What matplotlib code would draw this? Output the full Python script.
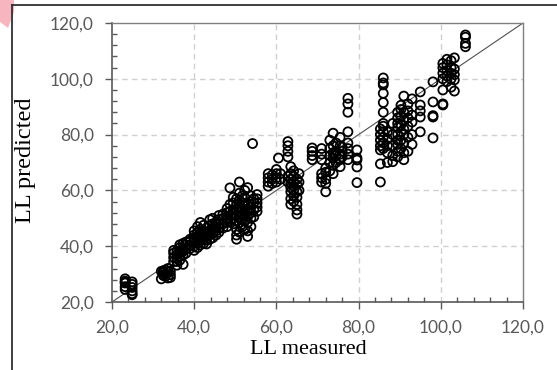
import matplotlib.pyplot as plt
from matplotlib.lines import Line2D
from matplotlib.patches import Polygon
from matplotlib.ticker import MultipleLocator, FuncFormatter

# measured LL (x) -> predicted LL values (y) for each measured column
columns = [
    (23.2, [28.3, 27.5, 26.8, 25.5, 24.5, 27.0]),
    (24.9, [27.2, 26.3, 25.2, 24.0, 23.0, 22.6]),
    (32.0, [28.3, 31.0]),
    (32.5, [30.5, 31.2, 29.5]),
    (33.0, [30.0, 31.5, 29.2]),
    (33.6, [30.8, 32.0, 28.6]),
    (34.2, [28.8, 31.0, 29.8]),
    (35.0, [34.5, 36.0, 37.5, 38.5]),
    (35.8, [33.2, 34.5, 35.5, 37.0, 38.3]),
    (36.5, [35.0, 36.5, 38.0, 39.5, 40.5]),
    (37.3, [33.5, 36.8, 38.2, 39.2, 41.0]),
    (38.0, [37.5, 39.0, 40.5, 41.5]),
    (39.0, [39.2, 40.3, 41.8, 42.5]),
    (40.0, [38.5, 40.0, 41.5, 43.0, 44.0, 45.5]),
    (40.8, [39.5, 41.0, 42.3, 43.5, 45.0, 47.0]),
    (41.5, [40.5, 42.0, 43.5, 44.5, 46.0, 48.5]),
    (42.3, [41.0, 42.5, 44.0, 45.2, 47.5]),
    (43.0, [40.8, 42.2, 43.7, 45.0, 46.5]),
    (43.8, [42.5, 44.0, 45.5, 47.5, 49.5]),
    (44.5, [43.0, 44.5, 46.0, 48.0, 50.0]),
    (45.3, [44.0, 45.5, 47.0, 48.5]),
    (46.0, [45.0, 46.5, 48.0, 49.5, 51.0]),
    (47.0, [46.5, 48.0, 50.0, 51.5]),
    (48.0, [47.0, 48.5, 50.0, 52.0, 53.5]),
    (48.7, [49.0, 51.0, 52.5, 55.0, 60.9]),
    (49.5, [48.0, 50.0, 51.5, 53.0, 55.5, 57.5]),
    (50.3, [42.5, 44.0, 46.0, 49.0, 51.0, 53.0, 55.0, 57.0]),
    (51.0, [45.0, 48.5, 50.5, 52.5, 54.0, 56.5, 59.0, 63.0]),
    (51.7, [47.0, 49.5, 51.5, 53.5, 55.5, 58.0]),
    (52.3, [46.0, 49.0, 51.0, 53.0, 55.0, 57.5, 60.0]),
    (53.0, [43.5, 45.5, 48.5, 50.5, 52.5, 54.5, 61.0]),
    (53.8, [47.0, 50.0, 52.0, 54.0, 56.0, 58.0]),
    (54.2, [76.8]),
    (54.5, [50.5, 53.0, 55.5, 57.0]),
    (55.3, [52.5, 54.0, 55.5, 57.0, 58.5]),
    (58.0, [61.5, 63.0, 64.5, 66.0]),
    (59.0, [62.5, 64.0, 65.5]),
    (60.0, [63.0, 64.5, 66.0, 67.5]),
    (60.5, [71.6]),
    (61.0, [64.0, 66.0]),
    (62.8, [63.0, 65.0, 72.0, 74.0, 76.0, 77.5]),
    (63.5, [55.0, 57.0, 59.5, 61.0, 62.5, 64.0, 66.0, 68.5]),
    (64.2, [56.0, 58.0, 60.0, 61.5, 63.0, 65.0, 67.0]),
    (65.0, [51.5, 53.0, 55.0, 57.5, 59.5, 62.0, 64.0]),
    (65.5, [60.0, 63.0, 66.0]),
    (68.7, [71.0, 72.5, 74.0, 75.2]),
    (71.0, [63.0, 64.5, 66.0, 71.0, 73.0, 75.0]),
    (72.0, [59.5, 62.5, 64.0, 66.5, 68.0]),
    (73.0, [67.0, 70.0, 72.5, 75.0, 78.0]),
    (73.8, [66.0, 69.0, 71.5, 73.5, 76.0, 80.5]),
    (74.5, [70.0, 72.5, 74.0, 77.0]),
    (75.5, [68.5, 71.0, 73.0, 76.0, 79.0]),
    (76.0, [72.0, 74.0, 75.5]),
    (77.4, [71.0, 73.0, 75.0, 77.0, 81.0, 88.0, 91.0, 93.0]),
    (79.6, [62.8, 68.4, 70.9, 71.6, 74.5]),
    (85.3, [63.0, 69.5, 74.5, 76.0, 78.0, 80.0, 82.0]),
    (86.0, [75.0, 77.0, 79.0, 81.0, 83.0, 84.0, 88.0, 91.5, 94.8, 97.8, 98.5, 100.3]),
    (87.0, [70.0, 73.5, 76.0, 78.5, 81.0]),
    (88.3, [70.3, 72.5, 76.0, 80.0, 84.0]),
    (89.5, [72.0, 74.0, 76.5, 78.0, 80.0, 82.5, 84.0, 86.0, 88.0]),
    (90.3, [75.0, 78.0, 81.0, 83.5, 86.5, 89.0, 90.5]),
    (91.0, [71.0, 73.5, 77.0, 80.0, 82.0, 85.0, 88.0, 93.8]),
    (92.0, [74.0, 79.0, 83.0, 86.0, 88.5, 91.0]),
    (93.0, [76.5, 80.0, 84.5, 87.0, 92.8]),
    (95.0, [81.0, 86.3, 88.5, 90.6, 95.3]),
    (98.1, [78.8, 86.3, 86.8, 91.7, 98.9]),
    (100.5, [90.6, 91.0, 96.0, 100.0, 102.0, 104.0, 105.5]),
    (101.5, [99.0, 101.0, 103.0, 105.0, 107.0]),
    (102.5, [97.0, 100.0, 102.0, 104.0, 106.5]),
    (103.3, [95.6, 99.6, 101.5, 103.5, 107.5]),
    (106.0, [111.5, 112.7, 114.9, 115.7]),
]

x_measured = [x for x, ys in columns for _ in ys]
y_predicted = [y for _, ys in columns for y in ys]

tick_font = 'Lato'
label_font = 'Liberation Serif'

fig = plt.figure(figsize=(5.57, 3.70), dpi=100)
ax = fig.add_axes([112 / 557, 1 - 302 / 370, 411 / 557, 279 / 370])

ax.set_xlim(20, 120)
ax.set_ylim(20, 120)

# grid
for v in [40, 60, 80, 100]:
    ax.axvline(v, color='#d0d0d0', lw=1.0, ls=(0, (4, 3)), zorder=0)
    ax.axhline(v, color='#d0d0d0', lw=1.0, ls=(0, (4, 3)), zorder=0)

# 1:1 line
ax.plot([20, 120], [20, 120], color='#505050', lw=0.8, zorder=1)

ax.scatter(x_measured, y_predicted, s=42, facecolors='none',
           edgecolors='black', linewidths=1.3, zorder=3)

for side in ['left', 'bottom']:
    ax.spines[side].set_color('#595959')
    ax.spines[side].set_linewidth(1.2)
for side in ['top', 'right']:
    ax.spines[side].set_color('#7f7f7f')
    ax.spines[side].set_linewidth(1.0)

ax.xaxis.set_major_locator(MultipleLocator(20))
ax.yaxis.set_major_locator(MultipleLocator(20))
ax.xaxis.set_minor_locator(MultipleLocator(4))
ax.yaxis.set_minor_locator(MultipleLocator(4))
fmt = FuncFormatter(lambda v, p: f'{v:.1f}'.replace('.', ','))
ax.xaxis.set_major_formatter(fmt)
ax.yaxis.set_major_formatter(fmt)

ax.tick_params(which='major', direction='out', length=5, width=1.0,
               color='#595959', labelcolor='#595959', labelsize=12.5, pad=8)
ax.tick_params(which='minor', direction='in', length=3.5, width=1.0,
               color='#595959')
for lab in ax.get_xticklabels() + ax.get_yticklabels():
    lab.set_fontfamily(tick_font)

fig.text(308 / 557, 1 - 350 / 370, 'LL measured', family=label_font,
         fontsize=16, ha='center', va='center')
fig.text(25 / 557, 1 - 160 / 370, 'LL predicted', family=label_font,
         fontsize=17.5, ha='center', va='center', rotation=90)

# outer frame lines
fig.add_artist(Line2D([12 / 557, 12 / 557], [0, 1 - 5 / 370],
                      transform=fig.transFigure, color='#303030', lw=1.3))
fig.add_artist(Line2D([12 / 557, 1], [1 - 5 / 370, 1 - 5 / 370],
                      transform=fig.transFigure, color='#303030', lw=1.3))

# pink mark at top-left corner
fig.add_artist(Polygon([[0, 1], [14 / 557, 1], [14 / 557, 1 - 12 / 370],
                        [8 / 557, 1 - 28 / 370], [0, 1 - 22 / 370]],
                       closed=True, transform=fig.transFigure,
                       facecolor='#f7b6bf', edgecolor='none', zorder=0))

fig.savefig('out.png', dpi=100)
